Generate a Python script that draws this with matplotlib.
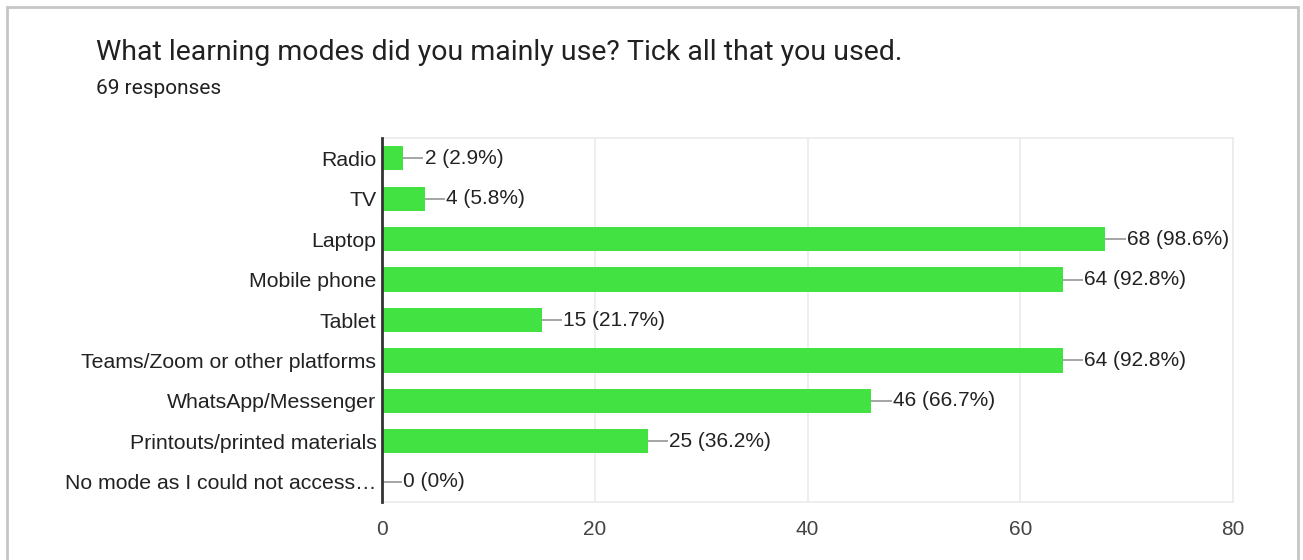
import matplotlib
matplotlib.use('Agg')
import matplotlib.pyplot as plt
from matplotlib.patches import Rectangle

categories = ['Radio', 'TV', 'Laptop', 'Mobile phone', 'Tablet',
              'Teams/Zoom or other platforms', 'WhatsApp/Messenger',
              'Printouts/printed materials', 'No mode as I could not access\u2026']
counts = [2, 4, 68, 64, 15, 64, 46, 25, 0]
percents = ['2.9%', '5.8%', '98.6%', '92.8%', '21.7%', '92.8%', '66.7%', '36.2%', '0%']
xticks = [0, 20, 40, 60, 80]

title = 'What learning modes did you mainly use? Tick all that you used.'
subtitle = '69 responses'

bar_color = '#41e241'
label_font = ['Liberation Sans', 'DejaVu Sans']

fig = plt.figure(figsize=(13.03, 5.6), dpi=100)
fig.patch.set_facecolor('white')

# outer card border (bottom edge is cut off in the screenshot)
fig.patches.append(Rectangle((7/1303, -0.05), (1298-7)/1303, 1 + 0.05 - 7/560,
                             transform=fig.transFigure, fill=False,
                             edgecolor='#c6c6c6', linewidth=2))

ax = fig.add_axes([382/1303, 1 - 502/560, (1233-382)/1303, (502-138)/560])

y = list(range(len(categories)))
ax.barh(y, counts, height=0.6, color=bar_color, zorder=3)
ax.set_ylim(len(categories) - 0.5, -0.5)
ax.set_xlim(0, 80)

ax.set_yticks(y)
ax.set_yticklabels(categories, fontsize=15.3, color='#222222', family=label_font)
ax.set_xticks(xticks)
ax.set_xticklabels([str(t) for t in xticks], fontsize=15, color='#444444', family=label_font)
ax.tick_params(axis='y', length=0, pad=4)
ax.tick_params(axis='x', length=0, pad=13)

ax.grid(axis='x', color='#ebebeb', linewidth=1.2, zorder=0)
for s in ['top', 'right', 'bottom']:
    ax.spines[s].set_color('#ebebeb')
    ax.spines[s].set_linewidth(1.2)
ax.spines['left'].set_color('#333333')
ax.spines['left'].set_linewidth(2)
ax.spines['left'].set_zorder(4)

# leader lines and value labels
lead = 1.9
for yi, c, p in zip(y, counts, percents):
    ax.plot([c, c + lead], [yi, yi], color='#9e9e9e', linewidth=1.3, zorder=4,
            solid_capstyle='butt')
    ax.text(c + lead + 0.1, yi, '%d (%s)' % (c, p), va='center', ha='left',
            fontsize=15, color='#222222', family=label_font)

fig.text(96/1303, 1 - 52/560, title, fontsize=20.5, color='#212121',
         family=['Roboto', 'DejaVu Sans'], va='center', ha='left')
fig.text(96/1303, 1 - 89/560, subtitle, fontsize=15, color='#212121',
         family=['Roboto', 'DejaVu Sans'], va='center', ha='left')

plt.savefig('out.png', dpi=100)
